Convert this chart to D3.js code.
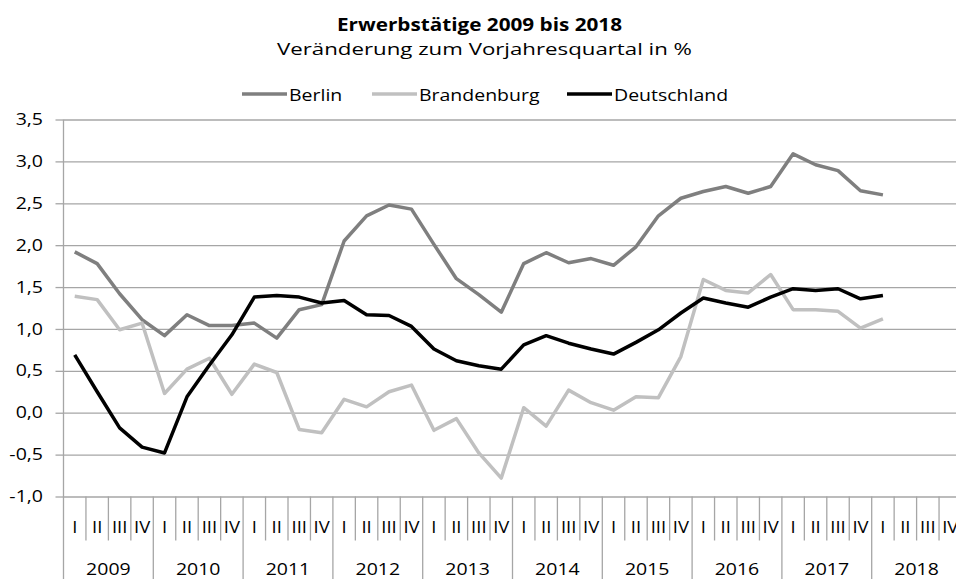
<!DOCTYPE html>
<html>
<head>
<meta charset="utf-8">
<script src="https://cdn.jsdelivr.net/npm/d3@7"></script>
<style>
  body { margin: 0; background: #fff; }
  text { font-family: "Open Sans", "DejaVu Sans", sans-serif; fill: #000; }
</style>
</head>
<body>
<svg id="chart" width="956" height="579"></svg>
<script>
// quarterly change vs. previous-year quarter, in %
const years = ["2009", "2010", "2011", "2012", "2013", "2014", "2015", "2016", "2017", "2018"];
const quarters = ["I", "II", "III", "IV"];
const yTicks = [-1, -0.5, 0, 0.5, 1, 1.5, 2, 2.5, 3, 3.5];

const berlin = [1.92, 1.78, 1.42, 1.11, 0.92, 1.17, 1.04, 1.04, 1.07, 0.89, 1.23, 1.29,
    2.05, 2.35, 2.48, 2.43, 2.01, 1.60, 1.41, 1.20, 1.78, 1.91, 1.79, 1.84,
    1.76, 1.98, 2.35, 2.56, 2.64, 2.70, 2.62, 2.70, 3.09, 2.96, 2.89, 2.65, 2.60];
const brandenburg = [1.39, 1.35, 0.99, 1.07, 0.23, 0.52, 0.65, 0.22, 0.58, 0.48, -0.20, -0.24,
    0.16, 0.07, 0.25, 0.33, -0.21, -0.07, -0.48, -0.78, 0.06, -0.16, 0.27, 0.12,
    0.03, 0.19, 0.18, 0.67, 1.59, 1.46, 1.43, 1.65, 1.23, 1.23, 1.21, 1.01, 1.12];
const deutschland = [0.69, 0.25, -0.18, -0.41, -0.48, 0.19, 0.57, 0.93, 1.38, 1.40, 1.38, 1.31,
    1.34, 1.17, 1.16, 1.03, 0.76, 0.62, 0.56, 0.52, 0.81, 0.92, 0.83, 0.76,
    0.70, 0.84, 0.99, 1.19, 1.37, 1.31, 1.26, 1.38, 1.48, 1.46, 1.48, 1.36, 1.40];

const series = [
    {name: "Berlin", values: berlin, color: "#7f7f7f"},
    {name: "Brandenburg", values: brandenburg, color: "#c0c0c0"},
    {name: "Deutschland", values: deutschland, color: "#000000"}
];

const width = 956, height = 579;
const margin = {top: 119.5, right: -5.5, bottom: 82.5, left: 63.5};
const gridColor = "#a6a6a6";

const slots = d3.range(years.length * quarters.length);
const x = d3.scaleBand()
    .domain(slots)
    .range([margin.left, width - margin.right]);
const y = d3.scaleLinear()
    .domain([-1, 3.5])
    .range([height - margin.bottom, margin.top]);

const de = d3.formatLocale({decimal: ",", thousands: ".", grouping: [3], currency: ["", " €"], minus: "-"});
const fmt = de.format(".1f");

// the original font runs wider than Open Sans, so stretch text horizontally
function stretch(sel, k) {
    sel.each(function () {
        const w = this.getComputedTextLength();
        this.setAttribute("textLength", w * k);
        this.setAttribute("lengthAdjust", "spacingAndGlyphs");
    });
}

const svg = d3.select("#chart");

// title
svg.append("text")
    .attr("x", 479.5).attr("y", 31)
    .attr("text-anchor", "middle")
    .attr("font-size", 18.5)
    .attr("font-weight", "bold")
    .attr("textLength", 285)
    .attr("lengthAdjust", "spacingAndGlyphs")
    .text("Erwerbstätige 2009 bis 2018");
svg.append("text")
    .attr("x", 484.5).attr("y", 54.5)
    .attr("text-anchor", "middle")
    .attr("font-size", 16.8)
    .attr("textLength", 415)
    .attr("lengthAdjust", "spacingAndGlyphs")
    .text("Veränderung zum Vorjahresquartal in %");

// y axis + gridlines
svg.append("g")
    .attr("transform", `translate(${margin.left},0)`)
    .call(d3.axisLeft(y).tickValues(yTicks).tickSize(8).tickPadding(12.5).tickFormat(fmt))
    .call(g => g.select(".domain").remove())
    .call(g => g.selectAll(".tick line").attr("stroke", gridColor).attr("stroke-width", 1.3))
    .call(g => g.selectAll(".tick line").clone()
        .attr("x2", width - margin.left)
        .attr("stroke", gridColor)
        .attr("stroke-width", 1.3))
    .call(g => g.selectAll(".tick text")
        .attr("font-size", 16)
        .attr("font-family", "'Open Sans', sans-serif")
        .call(stretch, 1.22));

// x axis: quarter + year rows
const xAxis = svg.append("g");
xAxis.append("line")
    .attr("x1", margin.left).attr("x2", margin.left)
    .attr("y1", y(3.5)).attr("y2", height)
    .attr("stroke", gridColor).attr("stroke-width", 1.3);
xAxis.selectAll("line.q")
    .data(slots.filter(i => i % 4 !== 0))
    .join("line")
    .attr("class", "q")
    .attr("x1", d => x(d)).attr("x2", d => x(d))
    .attr("y1", y(-1)).attr("y2", y(-1) + 44)
    .attr("stroke", gridColor).attr("stroke-width", 1.3);
xAxis.selectAll("line.yr")
    .data(slots.filter(i => i % 4 === 0 && i > 0))
    .join("line")
    .attr("class", "yr")
    .attr("x1", d => x(d)).attr("x2", d => x(d))
    .attr("y1", y(-1)).attr("y2", height)
    .attr("stroke", gridColor).attr("stroke-width", 1.3);
xAxis.selectAll("text.q")
    .data(slots)
    .join("text")
    .attr("class", "q")
    .attr("x", d => x(d) + x.bandwidth() / 2)
    .attr("y", 533)
    .attr("text-anchor", "middle")
    .attr("font-size", 16)
    .text(d => quarters[d % 4])
    .call(stretch, 1.15);
xAxis.selectAll("text.yr")
    .data(years)
    .join("text")
    .attr("class", "yr")
    .attr("x", (d, i) => x(i * 4) + x.bandwidth() * 2)
    .attr("y", 575)
    .attr("text-anchor", "middle")
    .attr("font-size", 16.5)
    .text(d => d)
    .call(stretch, 1.18);

// lines
const line = d3.line()
    .x((d, i) => x(i) + x.bandwidth() / 2)
    .y(d => y(d));

svg.append("g")
    .selectAll("path")
    .data(series)
    .join("path")
    .attr("fill", "none")
    .attr("stroke", d => d.color)
    .attr("stroke-width", 3.5)
    .attr("stroke-linejoin", "round")
    .attr("d", d => line(d.values));

// legend
const legendX = [242, 372, 567];
const legend = svg.append("g")
    .selectAll("g")
    .data(series)
    .join("g")
    .attr("transform", (d, i) => `translate(${legendX[i]},94)`);
legend.append("line")
    .attr("x1", 0).attr("x2", 45)
    .attr("stroke", d => d.color)
    .attr("stroke-width", 3.5);
legend.append("text")
    .attr("x", 47).attr("y", 7)
    .attr("font-size", 16.5)
    .text(d => d.name)
    .call(stretch, 1.18);
</script>
</body>
</html>
